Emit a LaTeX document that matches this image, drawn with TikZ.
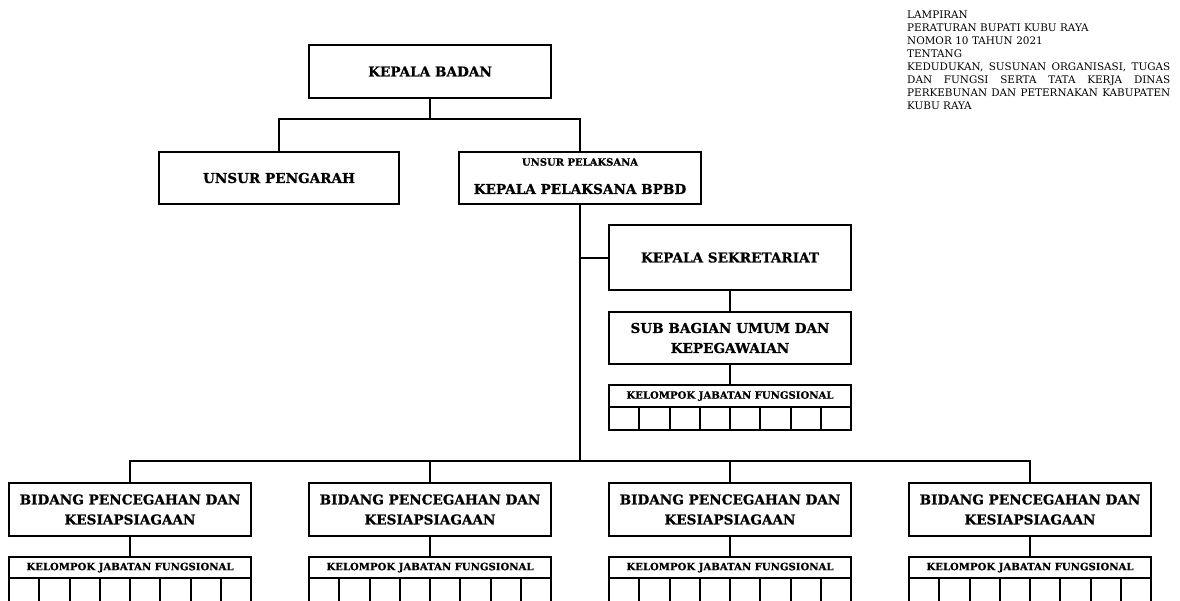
\documentclass[tikz,border=0pt]{standalone}
\usepackage{fontspec}
\setmainfont{DejaVu Serif}[BoldFeatures={FakeBold=0.8}]
\newcommand{\jline}[1]{\leavevmode\hbox to 263pt{#1}}
\begin{document}
\begin{tikzpicture}[x=1pt,y=-1pt,
  box/.style={draw, line width=2pt, rectangle, inner sep=0pt, outer sep=0pt, align=center,
    font=\bfseries\fontsize{13.6}{20}\selectfont},
  hdr/.style={draw, line width=2pt, rectangle, inner sep=0pt, outer sep=0pt, minimum height=21pt,
    font=\bfseries\fontsize{10.1}{12}\selectfont},
  cell/.style={draw, line width=2pt, rectangle, inner sep=0pt, outer sep=0pt, anchor=north west},
  conn/.style={line width=2pt},
  lbl/.style={inner sep=0pt}]
\useasboundingbox (0,0) rectangle (1180,600);
\clip (0,0) rectangle (1180,600);

% header text
\node[lbl, anchor=north west, text width=263pt, align=left,
  font=\fontsize{10.4}{13}\selectfont] (lamp) at (907,11)
  {LAMPIRAN\\
   PERATURAN BUPATI KUBU RAYA\\
   NOMOR 10 TAHUN 2021\\
   TENTANG\\
   \jline{KEDUDUKAN,\hfill SUSUNAN\hfill ORGANISASI,\hfill TUGAS}\\
   \jline{DAN\hfill FUNGSI\hfill SERTA\hfill TATA\hfill KERJA\hfill DINAS}\\
   \jline{PERKEBUNAN\hfill DAN\hfill PETERNAKAN\hfill KABUPATEN}\\
   KUBU RAYA};

% top level
\node[box, minimum width=242pt, minimum height=53pt] (kb) at (430,71.5) {KEPALA BADAN};
\node[box, minimum width=240pt, minimum height=52pt] (up) at (279,178) {UNSUR PENGARAH};
\node[box, minimum width=242pt, minimum height=52pt] (bpbd) at (580,178) {};
\node[lbl, font=\bfseries\fontsize{10}{12}\selectfont] (bpbdt1) at (580,162) {UNSUR PELAKSANA};
\node[lbl, font=\bfseries\fontsize{13.6}{20}\selectfont] (bpbdt2) at (580,189) {KEPALA PELAKSANA BPBD};

\coordinate (j1) at (430,119);
\draw[conn] (kb.south) -- (j1);
\draw[conn] (up.north) |- (j1) -| (bpbd.north);

% sekretariat
\node[box, minimum width=242pt, minimum height=65pt] (ks) at (730,257.5) {KEPALA SEKRETARIAT};
\node[box, minimum width=242pt, minimum height=52pt] (sub) at (730,338) {SUB BAGIAN UMUM DAN\\KEPEGAWAIAN};
\node[hdr, minimum width=242pt, minimum height=22pt] (kjfs) at (730,396) {KELOMPOK JABATAN FUNGSIONAL};
\foreach \i in {1,...,8}
  \node[cell, minimum width=30.25pt, minimum height=23pt] (kjfs-\i)
    at ([xshift={(\i-1)*30.25pt}]kjfs.south west) {};
\draw[conn] (ks.south) -- (sub.north);
\draw[conn] (sub.south) -- (kjfs.north);

% main vertical and bidang row
\coordinate (j2) at (580,461);
\draw[conn] (bpbd.south) -- (j2);
\draw[conn] (ks.west) -- (ks.west -| bpbd.south);

\foreach \n/\cx in {1/130,2/430,3/730,4/1030} {
  \node[box, minimum width=242pt, minimum height=53pt] (b\n) at (\cx,509.5)
    {BIDANG PENCEGAHAN DAN\\KESIAPSIAGAAN};
  \node[hdr, minimum width=242pt, minimum height=21pt] (k\n) at (\cx,567.5)
    {KELOMPOK JABATAN FUNGSIONAL};
  \foreach \i in {1,...,8}
    \node[cell, minimum width=30.25pt, minimum height=30pt] (k\n-\i)
      at ([xshift={(\i-1)*30.25pt}]k\n.south west) {};
  \draw[conn] (b\n.south) -- (k\n.north);
}
\draw[conn] (b1.north) |- (j2) -| (b4.north);
\draw[conn] (b2.north) -- (b2.north |- j2);
\draw[conn] (b3.north) -- (b3.north |- j2);
\end{tikzpicture}
\end{document}
